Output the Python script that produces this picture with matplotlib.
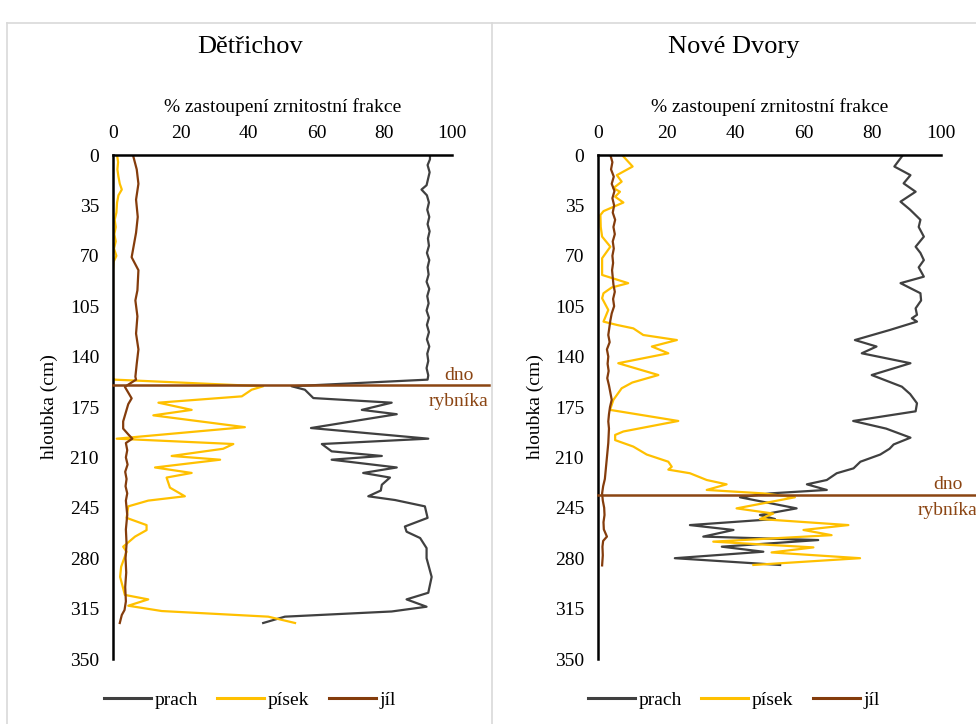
import matplotlib
matplotlib.use("Agg")
import matplotlib.pyplot as plt
from matplotlib.lines import Line2D

plt.rcParams['font.family'] = ['Liberation Serif', 'DejaVu Serif']

# ---------------- data ----------------
sites = ["Dětřichov", "Nové Dvory"]
series_names = ["prach", "písek", "jíl"]
x_ticks = [0, 20, 40, 60, 80, 100]
y_ticks = [0, 35, 70, 105, 140, 175, 210, 245, 280, 315, 350]
dno_depth = [160, 236]

# Dětřichov
det_prach_depth = [0, 3, 7, 12, 17, 21, 24, 28, 33, 38, 43, 48, 53, 58, 63, 68, 73, 78,
                   83, 88, 93, 98, 103, 108, 113, 118, 123, 128, 133, 138, 143, 148, 153, 156,
                   160.6, 163, 168.8, 172, 177, 180, 189.6, 197, 200.7, 205.8, 209, 211.6,
                   217, 220.8, 224, 229, 233, 237, 239.6, 244, 252, 258, 261.6, 266, 273,
                   280, 293, 304, 308.6, 313.7, 317, 320.6, 325]
det_prach = [93.5, 93.5, 92.8, 93.4, 92.9, 92.5, 91.0, 92.6, 93.2, 92.7, 93.3, 92.8, 93.4,
             92.9, 93.2, 92.6, 93.3, 92.8, 93.1, 92.5, 93.3, 92.7, 93.1, 92.5, 93.2, 92.6,
             93.2, 92.6, 93.3, 92.7, 93.0, 92.5, 93.0, 92.8,
             52.7, 56.6, 59.1, 82.2, 73.4, 83.7, 58.4, 93.0, 61.6, 64.5, 79.3, 64.5,
             83.7, 73.8, 81.7, 79.3, 79.0, 75.3, 83.2, 92.0, 92.8, 86.1, 86.6, 90.6, 92.5,
             92.5, 94.0, 93.0, 86.6, 92.5, 82.2, 50.7, 44.3]

det_pisek_depth = [0, 5, 10, 15, 20, 24, 28, 33, 40, 45, 50, 55, 60, 65, 70, 74, 80, 155,
                   156, 160.6, 163, 167.6, 172, 177, 180.8, 189, 197, 200.7, 204, 209, 211.6,
                   217, 220.8, 224, 231, 237, 240, 244, 252, 257, 260.5, 265, 272, 275.5,
                   286, 293, 301, 305.5, 308.6, 313, 316.7, 320.6, 325]
det_pisek = [1.2, 1.5, 1.3, 1.6, 2.0, 2.6, 1.6, 1.2, 1.0, 0.5, 0.8, 0.4, 0.8, 0.3, 1.0, 0.2,
             0.0, 0.0, 0.5, 44.3, 40.9, 38.0, 13.4, 23.2, 11.9, 38.9, 1.1, 35.5, 32.5, 17.3,
             31.6, 12.4, 23.2, 15.8, 16.8, 21.2, 10.4, 4.5, 4.0, 9.9, 9.9, 6.5, 3.0, 4.0,
             2.4, 2.1, 3.0, 3.5, 10.4, 4.5, 14.4, 45.8, 53.7]

det_jil_depth = [1, 10, 20, 31, 43, 54, 71, 80, 94, 101, 112, 124, 135, 145, 154, 156,
                 161, 165, 169, 173, 177, 181, 185, 190, 194, 197, 200, 205, 210, 215, 220,
                 225, 230, 235, 240, 245, 250, 260, 270, 280, 290, 300, 310, 316, 319.4, 325]
det_jil = [6.0, 7.0, 7.5, 6.8, 7.3, 6.8, 5.5, 7.5, 7.2, 6.6, 7.2, 6.8, 7.5, 7.0, 6.6, 6.8,
           3.5, 4.5, 5.5, 4.5, 4.0, 3.5, 3.0, 3.0, 4.5, 5.7, 3.8, 4.2, 3.8, 4.3, 3.6,
           4.0, 3.7, 4.2, 3.8, 4.0, 4.2, 3.8, 4.0, 3.7, 3.9, 3.6, 3.8, 3.4, 2.6, 2.0]

# Nové Dvory
nd_prach_depth = [1, 8, 14, 19.7, 25.5, 32.4, 38, 45, 50, 56.7, 63.7, 68, 73, 78, 84.5, 89,
                  96, 101, 106.5, 111, 113.4, 115.7, 121.5, 128.5, 133, 137.7, 144.6, 152.8,
                  160.9, 166, 172.4, 178, 184.7, 190, 196.3, 201, 204, 208, 213, 217.6, 221,
                  225.7, 228.7, 232.6, 235, 237.7, 245.4, 250, 252.8, 257, 260.4, 265, 267.4,
                  272, 275.5, 280, 284.7]
nd_prach = [88.6, 86.4, 91.1, 89.1, 92.6, 88.2, 91.0, 94.0, 93.5, 95.0, 92.6, 94.0, 95.0,
            93.5, 95.0, 88.2, 94.0, 94.2, 92.6, 93.0, 91.5, 93.0, 85.1, 74.9, 81.2, 76.9,
            91.1, 79.8, 88.6, 91.0, 93.0, 92.6, 74.4, 84.0, 91.1, 86.2, 85.0, 82.3, 76.5,
            74.5, 69.6, 66.7, 60.9, 66.7, 50.1, 41.4, 57.9, 47.2, 51.6, 26.8, 39.5, 30.7,
            64.2, 36.1, 48.2, 22.4, 53.1]

nd_pisek_depth = [1, 8, 14, 18.5, 23, 25.5, 29, 33, 39, 41.7, 50, 56.7, 63.7, 71.7, 83.3, 89,
                  92, 96, 99.5, 107.6, 115.7, 118, 120.4, 125, 128.5, 133, 137.7, 144.6,
                  152.8, 158, 162, 170, 177, 184.7, 192, 194.4, 198, 202.5, 208, 213, 216.5,
                  218.5, 221, 225.7, 228.7, 232.6, 235, 237.7, 245.4, 249, 252.8, 257, 260.4,
                  264, 268.5, 272.5, 276, 280, 284.7]
nd_pisek = [7.4, 10.1, 5.5, 6.9, 4.5, 6.4, 5.0, 7.4, 1.6, 0.7, 0.8, 1.2, 3.6, 1.2, 1.2, 8.8,
            4.0, 1.6, 1.2, 3.0, 1.6, 5.5, 10.3, 13.2, 23.0, 15.7, 20.5, 5.9, 17.6, 10.0, 6.9,
            4.5, 3.5, 23.4, 7.4, 5.0, 5.0, 10.3, 14.2, 20.5, 21.5, 20.5, 26.8, 31.7, 37.5,
            31.7, 48.2, 57.4, 40.4, 51.1, 47.2, 73.0, 59.9, 68.1, 33.6, 62.8, 50.6, 76.4, 45.3]

nd_jil_depth = [0, 5, 10, 15, 20, 25, 30, 35, 40, 45, 50, 55, 60, 65, 70, 75, 80, 85, 90, 95,
                100, 105, 110, 115, 120, 125, 130, 135, 140, 145, 150, 155, 160, 165, 170,
                175, 180, 185, 190, 195, 200, 205, 210, 215, 220, 225, 230, 235, 240, 245,
                250, 255, 260, 265, 268, 272, 278, 285]
nd_jil = [3.6, 4.2, 3.8, 4.6, 4.0, 4.8, 4.2, 4.7, 4.3, 5.0, 4.5, 4.9, 4.3, 4.6, 4.2, 4.4, 4.1,
          4.3, 4.5, 4.9, 4.4, 4.7, 4.0, 3.6, 3.3, 3.0, 3.4, 2.6, 3.0, 2.8, 3.1, 2.7, 3.2, 3.6,
          4.0, 3.5, 3.2, 3.0, 3.2, 3.1, 3.0, 2.8, 2.6, 2.4, 2.2, 2.0, 1.5, 1.2, 1.4, 1.8, 1.9,
          1.6, 1.7, 2.6, 1.5, 1.3, 1.4, 1.2]

panels = [
    [(det_prach_depth, det_prach), (det_pisek_depth, det_pisek), (det_jil_depth, det_jil)],
    [(nd_prach_depth, nd_prach), (nd_pisek_depth, nd_pisek), (nd_jil_depth, nd_jil)],
]

# ---------------- styling ----------------
colors = ["#404040", "#FFC000", "#843C0C"]
dno_color = "#8B4513"
W, H = 976, 724
FS = 14

fig = plt.figure(figsize=(W / 100, H / 100), dpi=100)

# chart area frames
frame_kw = dict(color="#D9D9D9", lw=1.2, transform=fig.transFigure)
fig.add_artist(Line2D([7 / W, 7 / W], [0, 1 - 23 / H], **frame_kw))
fig.add_artist(Line2D([7 / W, 1], [1 - 23 / H, 1 - 23 / H], **frame_kw))
fig.add_artist(Line2D([492 / W, 492 / W], [0, 1 - 23 / H], **frame_kw))

axes_px = [(113, 452), (598, 941)]
top_px, bot_px = 155, 659
panel_centers = [250, 734]

for i, (site, data) in enumerate(zip(sites, panels)):
    x0, x1 = axes_px[i]
    ax = fig.add_axes([x0 / W, 1 - bot_px / H, (x1 - x0) / W, (bot_px - top_px) / H])
    for (d, v), c, name in zip(data, colors, series_names):
        ax.plot(v, d, color=c, lw=1.6, label=name, solid_joinstyle="round")
    ax.set_xlim(0, 100)
    ax.set_ylim(350, 0)
    ax.set_xticks(x_ticks)
    ax.set_yticks(y_ticks)
    ax.xaxis.tick_top()
    ax.xaxis.set_label_position("top")
    ax.tick_params(axis="both", length=0, labelsize=FS, pad=9)
    ax.tick_params(axis="y", pad=10)
    for s in ["right", "bottom"]:
        ax.spines[s].set_visible(False)
    for s in ["left", "top"]:
        ax.spines[s].set_linewidth(1.8)
        ax.spines[s].set_color("black")
    ax.set_xlabel("% zastoupení zrnitostní frakce", fontsize=FS, labelpad=10)
    ax.set_ylabel("hloubka (cm)", fontsize=FS, labelpad=8)

    # pond bottom marker
    dd = dno_depth[i]
    ax.plot([0, 111], [dd, dd], color=dno_color, lw=1.8, clip_on=False, zorder=5)
    ax.text(102, dd - 7, "dno", color=dno_color, fontsize=FS, ha="center", va="center",
            clip_on=False)
    ax.text(102, dd + 11, "rybníka", color=dno_color, fontsize=FS, ha="center", va="center",
            clip_on=False)

    fig.text(panel_centers[i] / W, 1 - 47 / H, site, fontsize=19, ha="center", va="center")

    handles = [Line2D([], [], color=c, lw=2.2) for c in colors]
    fig.legend(handles, series_names, loc="center", ncol=3, frameon=False,
               bbox_to_anchor=(panel_centers[i] / W, 1 - 700 / H), fontsize=FS,
               handlelength=2.4, handletextpad=0.2, columnspacing=1.0)

fig.savefig("out.png", dpi=100)
